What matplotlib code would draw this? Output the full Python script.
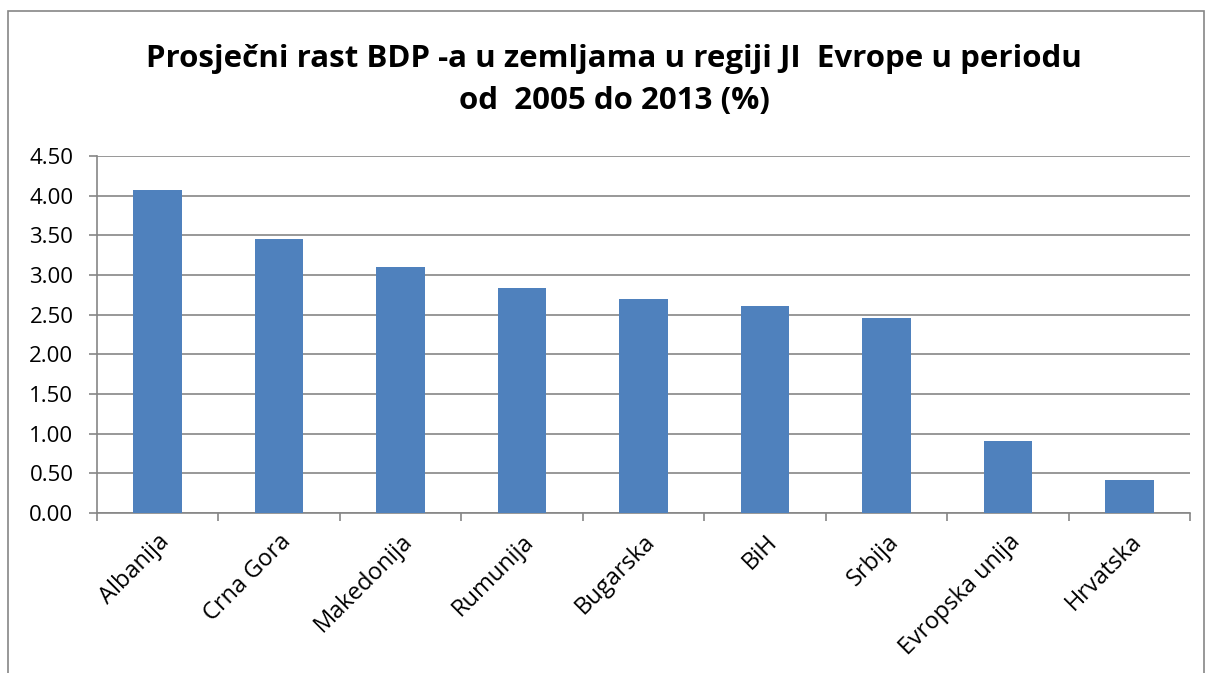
import matplotlib
matplotlib.use("Agg")
import matplotlib.pyplot as plt
from matplotlib.patches import Rectangle
import numpy as np

categories = ["Albanija", "Crna Gora", "Makedonija", "Rumunija", "Bugarska",
              "BiH", "Srbija", "Evropska unija", "Hrvatska"]
values = [4.07, 3.46, 3.10, 2.84, 2.70, 2.61, 2.46, 0.91, 0.42]
yticks = [0.0, 0.5, 1.0, 1.5, 2.0, 2.5, 3.0, 3.5, 4.0, 4.5]
title = "Prosječni rast BDP -a u zemljama u regiji JI  Evrope u periodu\nod  2005 do 2013 (%)"

plt.rcParams['font.family'] = ['Open Sans', 'DejaVu Sans']

fig = plt.figure(figsize=(12.09, 6.73), dpi=100)
fig.patches.append(Rectangle((8/1209, -0.05), 1196/1209, 1 - 11/673 + 0.05,
                             transform=fig.transFigure, fill=False,
                             edgecolor="#868686", linewidth=1.2))

ax = fig.add_axes([97/1209, 1 - 513/673, (1190 - 97)/1209, (513 - 156)/673])
x = np.arange(len(categories))
ax.bar(x, values, width=0.4, color="#4F81BD", zorder=3)
ax.set_xlim(-0.5, len(categories) - 0.5)
ax.set_ylim(0, 4.5)
ax.set_yticks(yticks)
ax.set_yticklabels([f"{v:.2f}" for v in yticks], fontsize=16)
ax.yaxis.grid(True, color="#868686", linewidth=1.2, zorder=0)
ax.set_xticks(x)
ax.set_xticklabels(categories, rotation=45, ha="right", rotation_mode="anchor", fontsize=17)
ax.set_xticks(np.arange(len(categories) + 1) - 0.5, minor=True)
ax.tick_params(axis="x", which="major", length=0, pad=12)
ax.tick_params(axis="x", which="minor", length=6, color="#868686", width=1.2)
ax.tick_params(axis="y", length=6, color="#868686", width=1.2, pad=11)
for s in ["top", "right"]:
    ax.spines[s].set_visible(False)
for s in ["left", "bottom"]:
    ax.spines[s].set_color("#868686")
    ax.spines[s].set_linewidth(1.2)

fig.text(614/1209, 1 - 80/673, title, ha="center", va="center", fontsize=22.5,
         fontweight="bold", linespacing=1.55)

fig.savefig("out.png", dpi=100)
